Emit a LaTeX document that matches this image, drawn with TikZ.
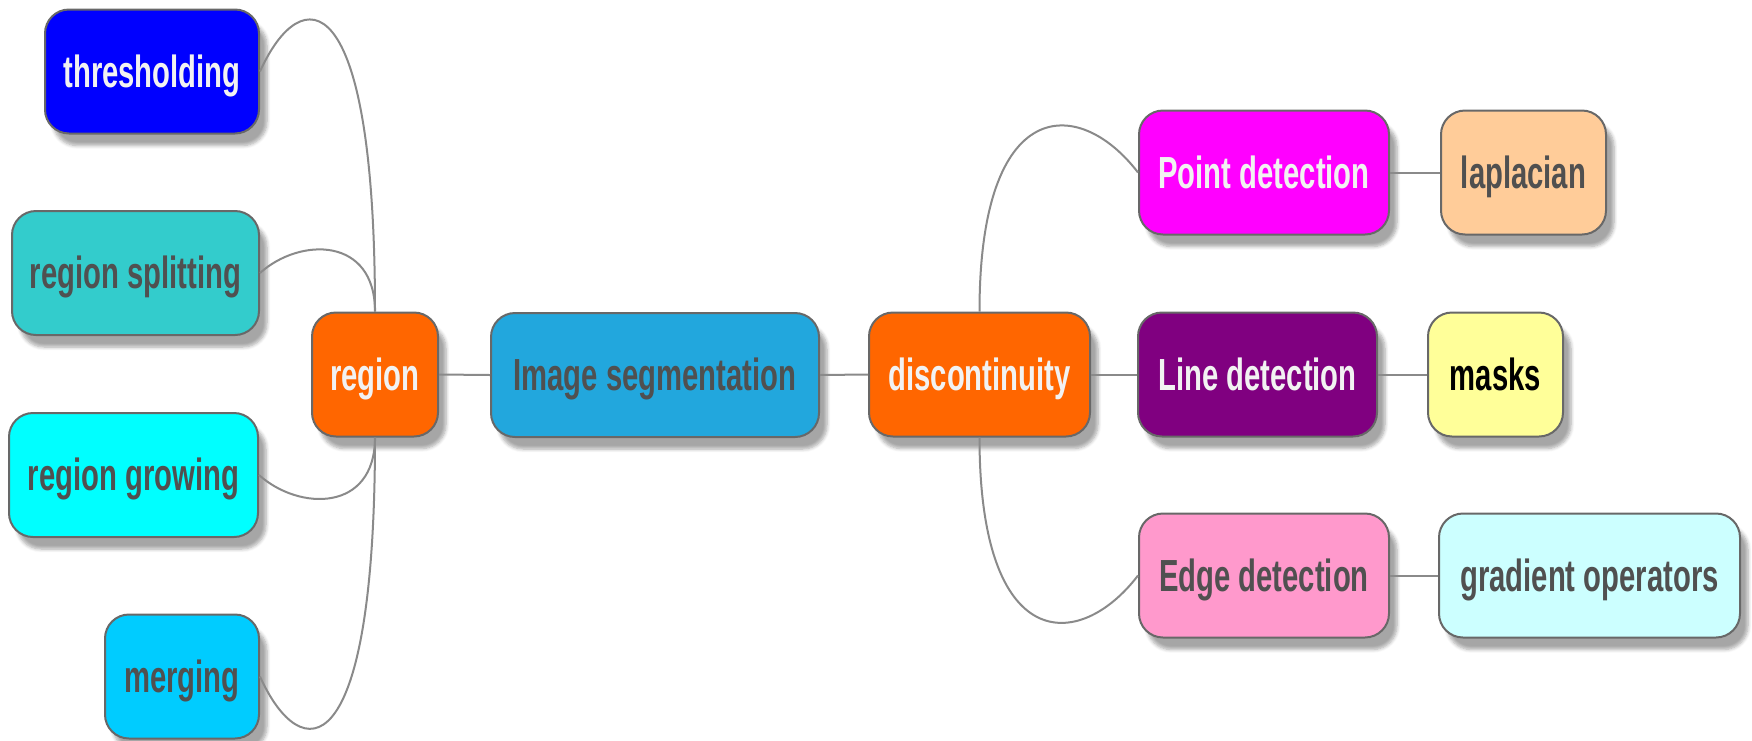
\documentclass[tikz,border=0pt]{standalone}
\usepackage{fontspec}
\newfontfamily\nf{Liberation Sans}[FakeStretch=0.65]
\usetikzlibrary{shadows.blur}
\definecolor{thrC}{HTML}{0000FF}
\definecolor{rsC}{HTML}{33CCCC}
\definecolor{rgC}{HTML}{00FFFF}
\definecolor{mgC}{HTML}{00CCFF}
\definecolor{orC}{HTML}{FF6600}
\definecolor{isC}{HTML}{22A7DD}
\definecolor{pdC}{HTML}{FF00FF}
\definecolor{ldC}{HTML}{800080}
\definecolor{edC}{HTML}{FF99CC}
\definecolor{lapC}{HTML}{FFCC99}
\definecolor{mkC}{HTML}{FFFF99}
\definecolor{goC}{HTML}{CCFFFF}
\definecolor{bordC}{HTML}{686868}
\definecolor{lineC}{HTML}{8A8A8A}
\definecolor{dtxt}{HTML}{505050}
\definecolor{wtxt}{HTML}{F2F2F2}
\tikzset{
  box/.style={draw=bordC, line width=1pt, rounded corners=12pt,
    minimum height=62pt, inner sep=0pt, align=center,
    text height=20pt, text depth=4.3pt,
    font=\nf\bfseries\fontsize{22.5}{27}\selectfont,
    blur shadow={shadow xshift=4pt, shadow yshift=-6pt, shadow blur steps=6, shadow opacity=35}},
  dark/.style={text=dtxt},
  light/.style={text=wtxt},
  conn/.style={draw=lineC, line width=1pt}
}
\begin{document}
\begin{tikzpicture}[x=0.5pt, y=-0.5pt]
\useasboundingbox (0,0) rectangle (1752,740);
% left
\node[box, light, fill=thrC, minimum width=107pt] (thr) at (152,71.5) {thresholding};
\node[box, dark, fill=rsC, minimum width=123.5pt] (rs) at (135.5,273) {region splitting};
\node[box, dark, fill=rgC, minimum width=124.5pt] (rg) at (133.5,475) {region growing};
\node[box, dark, fill=mgC, minimum width=77pt] (mg) at (182,676.5) {merging};
\node[box, light, fill=orC, minimum width=63pt] (region) at (375,374.5) {region};
% centre
\node[box, dark, fill=isC, minimum width=164pt] (is) at (655,375) {Image segmentation};
\node[box, light, fill=orC, minimum width=110.5pt] (disc) at (979.5,374.5) {discontinuity};
% right
\node[box, light, fill=pdC, minimum width=125pt] (pd) at (1264,172.5) {Point detection};
\node[box, dark, fill=lapC, minimum width=82.5pt] (lap) at (1523.5,172.5) {laplacian};
\node[box, light, fill=ldC, minimum width=119.5pt] (ld) at (1257.5,374.5) {Line detection};
\node[box, text=black, fill=mkC, minimum width=67.5pt] (mk) at (1495.5,374.5) {masks};
\node[box, dark, fill=edC, minimum width=125pt] (ed) at (1264,575.5) {Edge detection};
\node[box, dark, fill=goC, minimum width=150.5pt] (go) at (1589.5,575.5) {gradient operators};
% straight connectors
\draw[conn] (region.east) -- (is.west);
\draw[conn] (is.east) -- (disc.west);
\draw[conn] (disc.east) -- (ld.west);
\draw[conn] (pd.east) -- (lap.west);
\draw[conn] (ld.east) -- (mk.west);
\draw[conn] (ed.east) -- (go.west);
% curved connectors
\draw[conn] (region.north) .. controls +(0,-332) and +(41,-91) .. (thr.east);
\draw[conn] (region.north) .. controls +(0,-75) and +(40,-36) .. (rs.east);
\draw[conn] (region.south) .. controls +(0,75) and +(40,36) .. (rg.east);
\draw[conn] (region.south) .. controls +(0,332) and +(41,91) .. (mg.east);
\draw[conn] (disc.north) .. controls +(0,-217) and +(-59,-77) .. (pd.west);
\draw[conn] (disc.south) .. controls +(0,217) and +(-59,77) .. (ed.west);
\end{tikzpicture}
\end{document}
